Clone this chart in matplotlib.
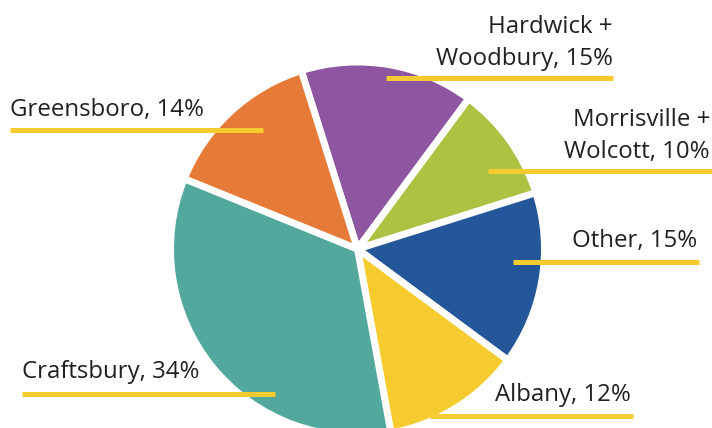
import matplotlib
matplotlib.use("Agg")
import matplotlib.pyplot as plt

# ---- data ----
labels = ["Hardwick +\nWoodbury, 15%", "Morrisville +\nWolcott, 10%", "Other, 15%",
          "Albany, 12%", "Craftsbury, 34%", "Greensboro, 14%"]
values = [15, 10, 15, 12, 34, 14]
colors = ["#8E55A1", "#ADC143", "#23579A", "#F6CB2F", "#52A89D", "#E57B36"]

W, H = 712, 428
fig = plt.figure(figsize=(W / 100, H / 100), dpi=100)
ax = fig.add_axes([0, 0, 1, 1])

cx, cy, r = 357.5, H - 249, 187
ax.pie(values, colors=colors, startangle=107.5, counterclock=False,
       center=(cx, cy), radius=r, frame=True,
       wedgeprops=dict(edgecolor="white", linewidth=5, joinstyle="miter"))
ax.set_xlim(0, W)
ax.set_ylim(0, H)
ax.set_aspect("equal")
ax.axis("off")

line_color = "#F6CB2F"
text_color = "#231F20"
font = ["Open Sans", "DejaVu Sans"]
fs = 17.3

# label layout: (x_text, y_baseline_of_last_line, ha, line_x0, line_x1, line_y)
layout = [
    (613, 65, "right", 386, 613, 78),
    (710, 158, "right", 488, 712, 171),
    (697, 247, "right", 513, 699, 262),
    (495, 401, "left", 430, 633, 416),
    (22, 378, "left", 22, 275, 394),
    (10, 116, "left", 10, 263, 130),
]
for lab, (tx, ty, ha, x0, x1, ly) in zip(labels, layout):
    ax.plot([x0, x1], [H - ly, H - ly], color=line_color, lw=3.6,
            solid_capstyle="butt", zorder=5)
    ax.text(tx, H - ty, lab, ha=ha, va="baseline", fontsize=fs, color=text_color,
            family=font, linespacing=1.45, multialignment="right" if ha == "right" else "left",
            zorder=6)

fig.savefig("out.png", dpi=100)
